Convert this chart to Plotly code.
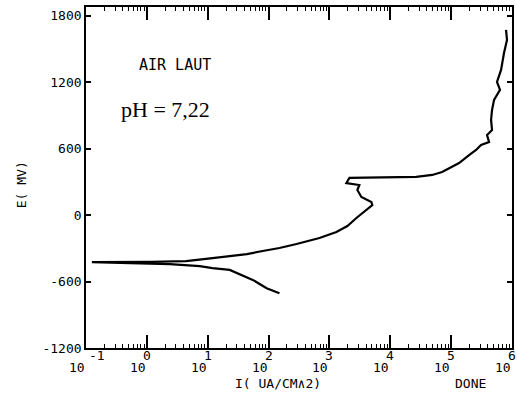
import plotly.graph_objects as go

# Polarisation scan of steel in sea water (AIR LAUT), pH 7.22
# current density in uA/cm2, potential in mV
current = [
    151, 93, 55, 33, 23, 12, 7.4, 4.2, 2.4, 0.53, 0.125,
    1.2, 2.9, 4.4, 12, 23, 44, 80, 151, 288, 686, 1303, 1973,
    2773, 4045, 5070, 4886, 3350, 2877, 3104, 1900, 2130,
    26670, 48870, 71100, 92700, 135000, 197000, 257000, 310000,
    420000, 389000, 470000, 453000, 470000, 507000, 635000,
    567000, 661000, 740000, 828000, 798000,
]
potential = [
    -705, -660, -585, -530, -495, -478, -460, -451, -442, -433, -424,
    -421, -419, -415, -388, -370, -352, -324, -297, -261, -207, -153, -98,
    -26, 46, 91, 119, 164, 227, 272, 290, 336,
    345, 363, 390, 426, 471, 543, 589, 634,
    661, 724, 769, 860, 950, 1041, 1131,
    1203, 1312, 1466, 1583, 1673,
]

decades = [-1, 0, 1, 2, 3, 4, 5, 6]
e_ticks = [-1200, -600, 0, 600, 1200, 1800]

MONO = "DejaVu Sans Mono"

fig = go.Figure(
    go.Scatter(
        x=current,
        y=potential,
        mode="lines",
        line=dict(color="black", width=2.2),
        showlegend=False,
    )
)

fig.update_layout(
    width=517,
    height=400,
    margin=dict(l=86, r=3, t=7, b=52),
    paper_bgcolor="white",
    plot_bgcolor="white",
    font=dict(family=MONO, size=13, color="black"),
)

fig.update_xaxes(
    type="log",
    range=[-1, 6],
    tickmode="array",
    tickvals=[10.0 ** d for d in decades],
    showticklabels=False,
    ticks="inside",
    ticklen=13,
    tickwidth=1.5,
    tickcolor="black",
    minor=dict(ticks="inside", ticklen=4, tickwidth=1.2, tickcolor="black", dtick="D1"),
    showline=True,
    linecolor="black",
    linewidth=1.6,
    mirror="ticks",
    showgrid=False,
    zeroline=False,
)

fig.update_yaxes(
    range=[-1200, 1880],
    tickmode="array",
    tickvals=e_ticks,
    ticktext=[str(v) for v in e_ticks],
    ticks="inside",
    ticklen=5,
    tickwidth=1.5,
    tickcolor="black",
    showline=True,
    linecolor="black",
    linewidth=1.6,
    mirror="ticks",
    showgrid=False,
    zeroline=False,
    tickfont=dict(family=MONO, size=13),
)

# decade labels: exponent raised above the "10", as the plotter writes them
for d in decades:
    exp = str(d)
    fig.add_annotation(
        text=exp, xref="x", yref="paper", x=d, y=-0.021,
        xanchor="left" if len(exp) > 1 else "center", yanchor="middle",
        xshift=1 if len(exp) > 1 else 0,
        showarrow=False, font=dict(family=MONO, size=13),
    )
    fig.add_annotation(
        text="10", xref="x", yref="paper", x=d, y=-0.057,
        xanchor="right", yanchor="middle", xshift=1,
        showarrow=False, font=dict(family=MONO, size=13),
    )

fig.add_annotation(
    text="E( MV)", textangle=-90, xref="paper", yref="paper",
    x=-0.152, y=0.478, xanchor="center", yanchor="middle",
    showarrow=False, font=dict(family=MONO, size=13),
)
fig.add_annotation(
    text="I( UA/CM∧2)", xref="paper", yref="paper",
    x=0.451, y=-0.103, xanchor="center", yanchor="middle",
    showarrow=False, font=dict(family=MONO, size=13),
)
fig.add_annotation(
    text="DONE", xref="paper", yref="paper",
    x=0.902, y=-0.103, xanchor="center", yanchor="middle",
    showarrow=False, font=dict(family=MONO, size=13),
)
fig.add_annotation(
    text="AIR LAUT", xref="paper", yref="paper",
    x=0.208, y=0.83, xanchor="center", yanchor="middle",
    showarrow=False, font=dict(family=MONO, size=15),
)
fig.add_annotation(
    text="pH = 7,22", xref="paper", yref="paper",
    x=0.187, y=0.698, xanchor="center", yanchor="middle",
    showarrow=False, font=dict(family="Liberation Serif", size=22),
)

fig.write_html("out.html")
